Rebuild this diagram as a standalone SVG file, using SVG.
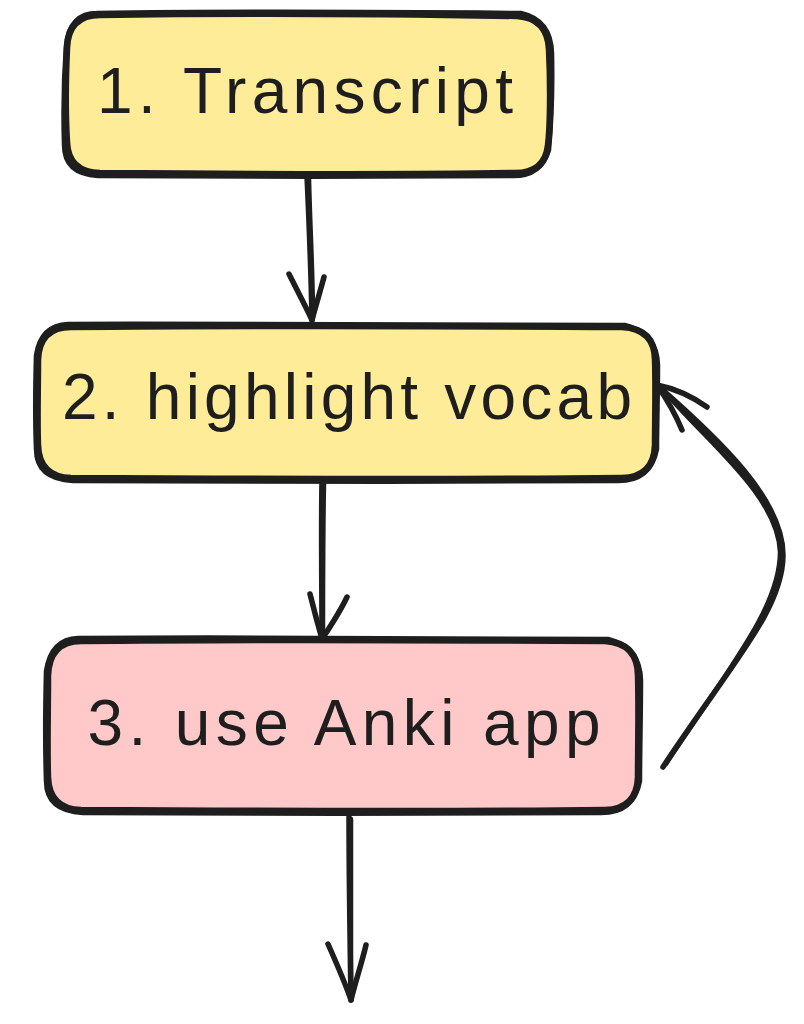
<svg xmlns="http://www.w3.org/2000/svg" width="804" height="1024" viewBox="0 0 804 1024">
<style>
.ink{fill:none;stroke:#1e1e1e;stroke-linecap:round;stroke-linejoin:round}
.a{stroke-width:6.5}
.b{stroke-width:4.5}
.c{stroke-width:5.5}
.lbl{font-family:"Liberation Sans","DejaVu Sans",sans-serif;font-size:64px;fill:#1e1e1e;text-anchor:middle}
</style>
<rect width="804" height="1024" fill="#ffffff"/>
<g id="node-transcript">
<path d="M100 15 C220 13 400 14 517 16 Q548 18 549 50 C551 90 550 130 548 145 Q545 173 515 173 C400 175 220 174 100 173 Q68 172 67 142 C65 110 66 70 67 48 Q68 15 100 15 Z" fill="#ffec99"/>
<path class="ink a" d="M100 15 C220 13 400 14 517 16 Q548 18 549 50 C551 90 550 130 548 145 Q545 173 515 173 C400 175 220 174 100 173 Q68 172 67 142 C65 110 66 70 67 48 Q68 15 100 15 Z"/>
<path class="ink b" d="M97 13 C230 11 410 12 521 13 Q551 20 552 53 C553 95 551 128 549 150 Q541 177 511 176 C390 177 215 177 98 176 Q64 174 64 145 C63 112 64 72 66 45 Q70 13 97 13"/>
<text class="lbl" x="305" y="113" textLength="416" lengthAdjust="spacing">1. Transcript</text>
</g>
<g id="node-highlight">
<path d="M71 327 C250 325 450 326 622 327 Q655 329 655 360 C656 390 655 420 655 445 Q654 477 622 478 C450 480 250 479 71 478 Q39 477 38 445 C37 420 38 390 38 360 Q39 327 71 327 Z" fill="#ffec99"/>
<path class="ink a" d="M71 327 C250 325 450 326 622 327 Q655 329 655 360 C656 390 655 420 655 445 Q654 477 622 478 C450 480 250 479 71 478 Q39 477 38 445 C37 420 38 390 38 360 Q39 327 71 327 Z"/>
<path class="ink b" d="M68 324 C260 323 455 324 625 325 Q657 333 658 365 C658 395 657 425 657 449 Q651 481 618 481 C440 482 245 482 73 481 Q36 479 36 449 C35 425 35 392 36 355 Q41 325 68 324"/>
<text class="lbl" x="347" y="419" textLength="570" lengthAdjust="spacing">2. highlight vocab</text>
</g>
<g id="node-anki">
<path d="M81 641 C250 639 450 640 605 641 Q638 643 638 676 C639 710 638 750 638 777 Q637 809 605 810 C450 812 250 811 81 810 Q49 809 48 777 C47 750 48 710 48 676 Q49 641 81 641 Z" fill="#ffc9c9"/>
<path class="ink a" d="M81 641 C250 639 450 640 605 641 Q638 643 638 676 C639 710 638 750 638 777 Q637 809 605 810 C450 812 250 811 81 810 Q49 809 48 777 C47 750 48 710 48 676 Q49 641 81 641 Z"/>
<path class="ink b" d="M78 638 C260 637 455 638 608 639 Q640 647 641 680 C641 713 640 752 640 781 Q634 813 601 813 C440 814 245 814 83 813 Q46 811 46 781 C45 752 45 712 46 671 Q51 639 78 638"/>
<text class="lbl" x="344" y="745" textLength="513" lengthAdjust="spacing">3. use Anki app</text>
</g>
<g id="connectors">
<path class="ink c" d="M307 176 C309 220 311 270 312 320"/>
<path class="ink b" d="M309 178 C310 225 313 275 313 318"/>
<path class="ink c" d="M289 274 C297 290 305 305 312 320 M324 277 C320 292 316 305 312 320"/>
<path class="ink c" d="M322 481 C321 530 322 590 322 639"/>
<path class="ink b" d="M324 483 C323 535 323 592 323 637"/>
<path class="ink c" d="M310 594 C314 610 318 625 322 639 M347 597 C340 612 330 627 322 639"/>
<path class="ink c" d="M349 817 C349 880 350 940 351 1000"/>
<path class="ink b" d="M351 819 C351 880 351 942 351 997"/>
<path class="ink c" d="M328 944 C336 962 344 980 351 1000 M366 945 C362 962 356 980 351 1000"/>
<path class="ink c" d="M663 767 C730 665 783 610 783 555 C783 500 720 440 657 385"/>
<path class="ink b" d="M666 764 C735 660 780 605 780 552 C778 495 705 440 665 392"/>
<path class="ink c" d="M707 407 C690 395 672 388 657 385 M682 430 C675 413 666 398 657 385"/>
</g>
</svg>
